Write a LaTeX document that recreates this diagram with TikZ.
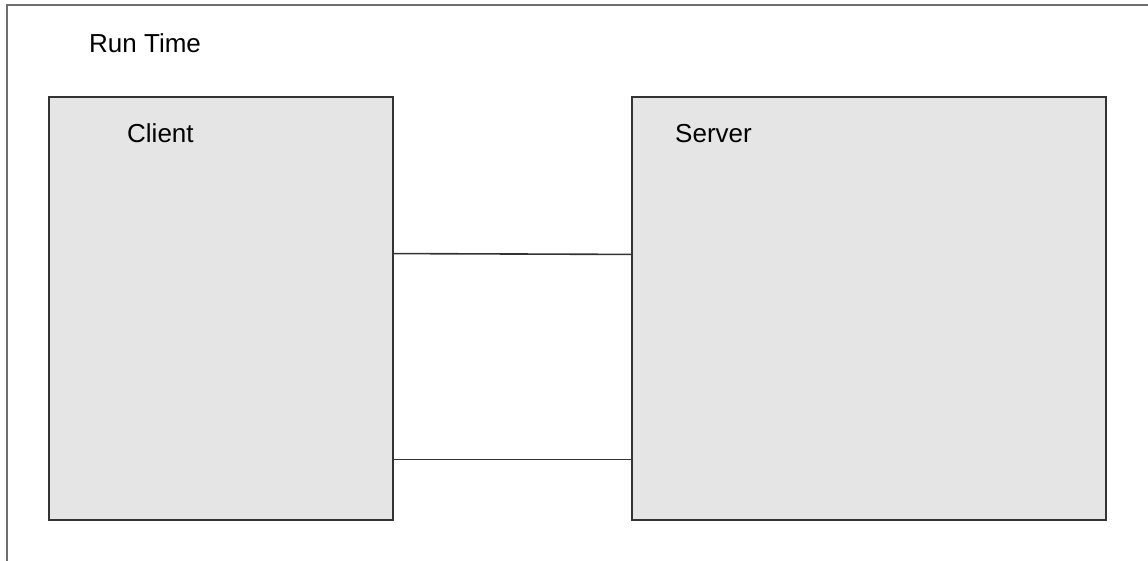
\documentclass[tikz,border=0pt]{standalone}
\usepackage{fontspec}
\setmainfont{Liberation Sans}
\usetikzlibrary{calc}
\definecolor{boxfill}{HTML}{E5E5E5}
\definecolor{frameline}{HTML}{6E6E6E}
\definecolor{boxline}{HTML}{333333}
\begin{document}
\begin{tikzpicture}[x=1pt,y=-1pt,
  tier/.style={draw=boxline, line width=1.7pt, fill=boxfill, rectangle,
    inner sep=0pt, anchor=north west, minimum height=423pt},
  label/.style={font=\fontsize{26}{30}\selectfont, inner sep=0pt, anchor=base west},
  link/.style={draw=boxline, line width=1.6pt}]
  \useasboundingbox (0,0) rectangle (1148,560);
  \fill[white] (0,0) rectangle (1148,560);
  % open run-time frame (runs past the right and bottom edges)
  \draw[frameline, line width=1.8pt] (7,570) -- (7,5) -- (1160,5);
  \node[label] (rt) at (89,52) {Run Time};
  % client and server tiers
  \node[tier, minimum width=344pt] (client) at (48,96) {};
  \node[tier, minimum width=474pt] (server) at (631,96) {};
  \node[label] (cl) at (127,142) {Client};
  \node[label] (sv) at (675,142) {Server};
  % connections between the tiers
  \draw[link] ($(client.north east)!0.371!(client.south east)$) -- ($(server.north west)!0.373!(server.south west)$);
  \draw[link] ($(client.north east)!0.856!(client.south east)$) -- ($(server.north west)!0.856!(server.south west)$);
\end{tikzpicture}
\end{document}
